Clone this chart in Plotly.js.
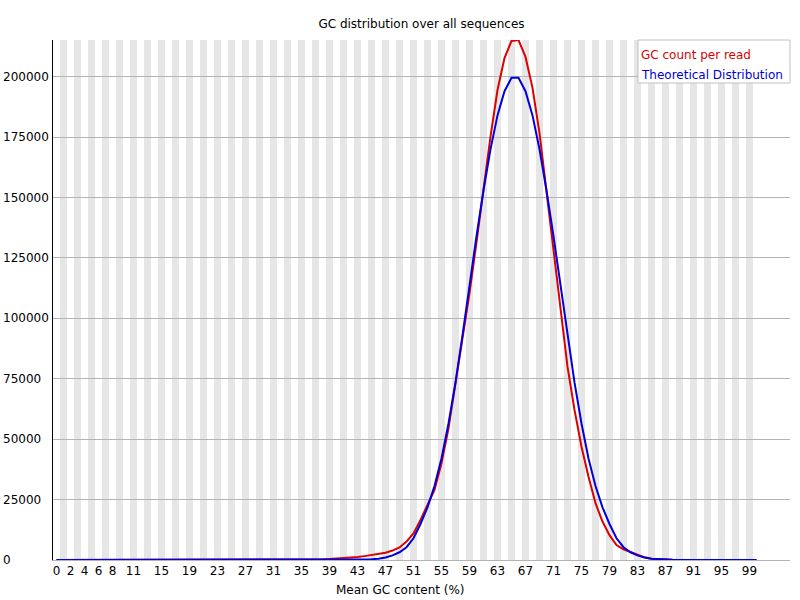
<!DOCTYPE html>
<html><head><meta charset="utf-8">
<script src="https://cdn.plot.ly/plotly-3.0.1.min.js"></script>
<style>html,body{margin:0;padding:0;background:#fff}</style>
</head><body><div id="chart" style="width:800px;height:600px"></div>
<script>
// ---- data ----
const gcPercent = [0,1,2,3,4,5,6,7,8,9,10,11,12,13,14,15,16,17,18,19,20,21,22,23,24,25,26,27,28,29,30,31,32,33,34,35,36,37,38,39,40,41,42,43,44,45,46,47,48,49,50,51,52,53,54,55,56,57,58,59,60,61,62,63,64,65,66,67,68,69,70,71,72,73,74,75,76,77,78,79,80,81,82,83,84,85,86,87,88,89,90,91,92,93,94,95,96,97,98,99,100];
const xTickLabels = [0,2,4,6,8,11,15,19,23,27,31,35,39,43,47,51,55,59,63,67,71,75,79,83,87,91,95,99];
const yTickValues = [0,25000,50000,75000,100000,125000,150000,175000,200000];
const gcCountPerRead = [
  0,0,0,0,0,0,0,0,0,0, 0,0,0,0,0,0,0,0,0,0, 0,0,0,0,0,0,0,0,0,0, 0,0,0,0,0,
  50,100,200,300,400,550,700,950,1200,1600,2000,2400,3000,3900,5200,
  7600,11000,16600,22500,29000,40000,54500,73100,91700,110500,
  131500,153500,175200,194500,207700,214800,215200,208200,195400,176700,
  153100,129700,104000,80000,62100,46900,34500,23500,15900,10300,
  6200,4400,3300,2100,1100,550,300,150,70,30,
  0,0,0,0,0,0,0,0,0,0,0
];
const theoreticalDistribution = [
  0,0,0,0,0,0,0,0,0,0, 0,0,0,0,0,0,0,0,0,0, 0,0,0,0,0,0,0,0,0,0, 0,0,0,0,0,0,0,0,0,0, 0,
  20,40,80,150,300,550,1050,1900,3200,
  5300,9000,14900,21800,30600,42000,56500,73500,93000,114000,
  134000,153000,170000,184000,194000,199600,199600,194000,184000,170000,
  153000,134000,114000,93000,73500,56500,42000,30600,21800,14900,
  9000,5300,3200,1900,1050,550,300,150,80,40,
  20,0,0,0,0,0,0,0,0,0,0
];
const seriesNames = ['GC count per read', 'Theoretical Distribution'];
const seriesColors = ['rgb(220,0,0)', 'rgb(0,0,220)'];
const chartTitle = 'GC distribution over all sequences';
const xTitle = 'Mean GC content (%)';
const yMax = 215200;

// ---- layout geometry ----
const FONT = 'DejaVu Sans, Verdana, sans-serif';
const W = 800, H = 600, L = 53, R = 10, T = 40, B = 40;
const pw = W - L - R, ph = H - T - B;
const catPx = 7;
const xRange = [-0.5, -0.5 + pw / catPx];

const shapes = [];
gcPercent.forEach(function (g, i) {
  if (i % 2 === 1) {
    shapes.push({type: 'rect', xref: 'x', yref: 'paper', x0: i - 0.5, x1: i + 0.5, y0: 0, y1: 1,
      fillcolor: 'rgb(230,230,230)', line: {width: 0}, layer: 'below'});
  }
});
// legend box
shapes.push({type: 'rect', xref: 'paper', yref: 'paper', x0: (638 - L) / pw, x1: 1, y0: (H - B - 83) / ph, y1: 1,
  fillcolor: 'white', line: {color: 'rgb(192,192,192)', width: 1}, layer: 'above'});

const annotations = [];
yTickValues.forEach(function (v) {
  annotations.push({xref: 'paper', yref: 'y', x: (2 - L) / pw, y: v, xanchor: 'left', yanchor: 'middle',
    text: String(v), showarrow: false, borderpad: 0, font: {family: FONT, size: 12, color: 'black'}});
});
annotations.push({xref: 'paper', yref: 'paper', x: (400 - L) / pw, y: (H - B - 590) / ph, xanchor: 'center', yanchor: 'middle',
  text: xTitle, showarrow: false, font: {family: FONT, size: 12, color: 'black'}});
seriesNames.forEach(function (n, k) {
  annotations.push({xref: 'paper', yref: 'paper', x: (640 - L) / pw, y: (H - B - (55 + 20 * k)) / ph, xanchor: 'left', yanchor: 'middle',
    text: n, showarrow: false, borderpad: 0, font: {family: FONT, size: 12, color: seriesColors[k]}});
});

const traces = [gcCountPerRead, theoreticalDistribution].map(function (ys, k) {
  return {x: gcPercent, y: ys, type: 'scatter', mode: 'lines', name: seriesNames[k],
    line: {color: seriesColors[k], width: 2}, showlegend: false, hoverinfo: 'skip'};
});

const layout = {
  width: W, height: H,
  margin: {l: L, r: R, t: T, b: B, pad: 0},
  paper_bgcolor: 'white', plot_bgcolor: 'white',
  font: {family: FONT, size: 12, color: 'black'},
  title: {text: chartTitle, font: {family: FONT, size: 12, color: 'black'}, x: 0.5, xref: 'paper', y: 1 - 24 / H, yref: 'container', yanchor: 'middle'},
  showlegend: false,
  xaxis: {range: xRange, tickmode: 'array', tickvals: xTickLabels, ticktext: xTickLabels.map(String),
    showgrid: false, zeroline: false, ticks: '', showline: true, linecolor: 'rgb(180,180,180)', linewidth: 1,
    tickfont: {family: FONT, size: 12, color: 'black'}, fixedrange: true},
  yaxis: {range: [0, yMax], tickmode: 'array', tickvals: yTickValues, showticklabels: false,
    showgrid: true, gridcolor: 'rgb(180,180,180)', gridwidth: 1, zeroline: false, ticks: '',
    showline: true, linecolor: 'black', linewidth: 1, fixedrange: true},
  shapes: shapes,
  annotations: annotations,
  hovermode: false
};

Plotly.newPlot('chart', traces, layout, {displayModeBar: false, staticPlot: true});
</script></body></html>
